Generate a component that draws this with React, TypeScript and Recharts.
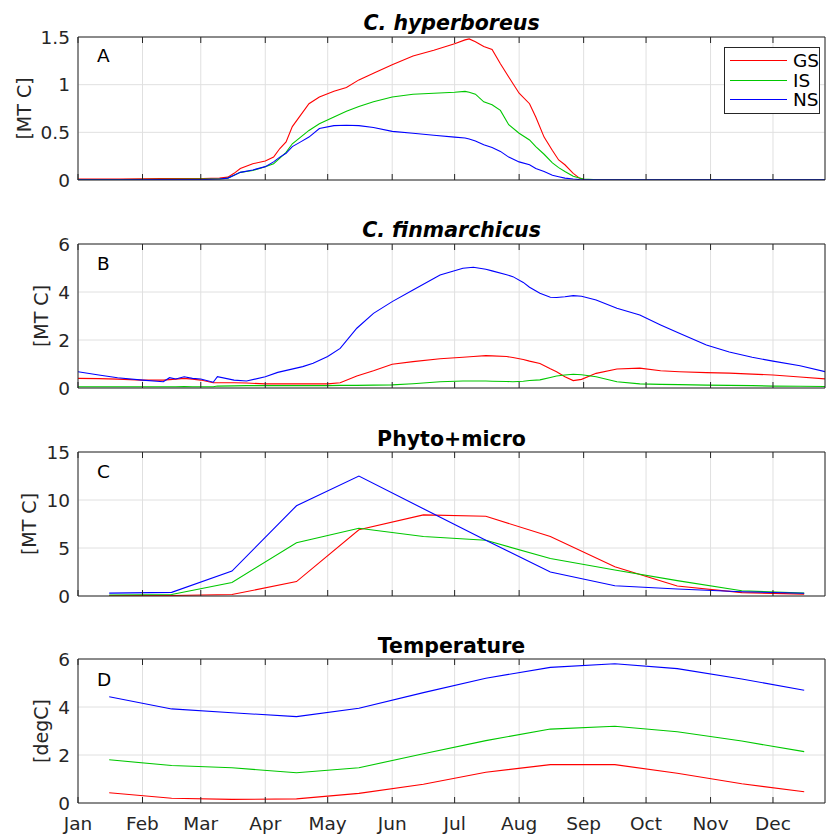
import { CartesianGrid, Legend, Line, LineChart, XAxis, YAxis } from "recharts"

const monthStarts = [0, 31, 59, 90, 120, 151, 181, 212, 243, 273, 304, 334]
const monthNames = ["Jan", "Feb", "Mar", "Apr", "May", "Jun", "Jul", "Aug", "Sep", "Oct", "Nov", "Dec"]
const midMonthDays = [15, 45, 74, 105, 135, 166, 196, 227, 258, 288, 319, 349]

// A: C. hyperboreus [MT C]
const hypDays = [0, 20, 40, 60, 68, 72, 75, 78, 84, 90, 94, 97, 100, 103, 107, 111, 116, 123, 129, 135, 142, 151, 161, 171, 181, 186, 188, 191, 195, 199, 203, 207, 212, 217, 220, 224, 228, 231, 234, 238, 241, 243, 250, 280, 310, 340, 359]
const hypGS = [0.01, 0.01, 0.015, 0.015, 0.02, 0.03, 0.07, 0.12, 0.17, 0.2, 0.24, 0.33, 0.4, 0.56, 0.68, 0.8, 0.87, 0.93, 0.97, 1.05, 1.12, 1.21, 1.3, 1.36, 1.43, 1.47, 1.48, 1.45, 1.4, 1.37, 1.22, 1.08, 0.91, 0.8, 0.66, 0.45, 0.31, 0.21, 0.16, 0.07, 0.02, 0.005, 0.003, 0.002, 0.002, 0.003, 0.005]
const hypIS = [0.005, 0.005, 0.008, 0.01, 0.01, 0.02, 0.05, 0.08, 0.1, 0.14, 0.17, 0.23, 0.29, 0.38, 0.45, 0.52, 0.59, 0.66, 0.72, 0.77, 0.82, 0.87, 0.9, 0.91, 0.92, 0.93, 0.92, 0.9, 0.82, 0.79, 0.73, 0.58, 0.49, 0.42, 0.35, 0.27, 0.18, 0.13, 0.09, 0.04, 0.02, 0.01, 0.003, 0.002, 0.002, 0.002, 0.002]
const hypNS = [0.003, 0.003, 0.005, 0.005, 0.01, 0.02, 0.05, 0.08, 0.105, 0.14, 0.19, 0.24, 0.28, 0.35, 0.4, 0.45, 0.54, 0.57, 0.575, 0.57, 0.55, 0.51, 0.49, 0.47, 0.45, 0.44, 0.43, 0.41, 0.37, 0.34, 0.3, 0.24, 0.19, 0.16, 0.12, 0.09, 0.05, 0.035, 0.02, 0.01, 0.005, 0.003, 0.002, 0.002, 0.002, 0.002, 0.002]

// B: C. finmarchicus [MT C]
const finDays = [0, 10, 19, 31, 41, 44, 47, 51, 55, 59, 65, 67, 75, 81, 90, 96, 108, 113, 120, 126, 134, 142, 151, 161, 174, 185, 190, 196, 199, 206, 209, 214, 217, 222, 227, 230, 234, 238, 242, 249, 259, 270, 280, 289, 302, 313, 324, 334, 347, 359]
const finGS = [0.4, 0.39, 0.37, 0.33, 0.33, 0.35, 0.37, 0.4, 0.37, 0.33, 0.22, 0.22, 0.22, 0.21, 0.17, 0.17, 0.17, 0.17, 0.17, 0.22, 0.5, 0.72, 0.99, 1.1, 1.22, 1.28, 1.31, 1.35, 1.34, 1.31, 1.27, 1.19, 1.12, 1.02, 0.8, 0.68, 0.47, 0.31, 0.36, 0.61, 0.79, 0.83, 0.72, 0.68, 0.64, 0.62, 0.58, 0.54, 0.46, 0.38]
const finIS = [0.05, 0.05, 0.05, 0.05, 0.05, 0.05, 0.05, 0.06, 0.05, 0.05, 0.05, 0.08, 0.09, 0.1, 0.1, 0.1, 0.1, 0.1, 0.1, 0.11, 0.11, 0.12, 0.13, 0.18, 0.26, 0.29, 0.29, 0.29, 0.28, 0.27, 0.26, 0.28, 0.31, 0.34, 0.44, 0.5, 0.54, 0.57, 0.55, 0.47, 0.26, 0.17, 0.15, 0.14, 0.12, 0.11, 0.1, 0.08, 0.07, 0.06]
const finNS = [0.68, 0.54, 0.43, 0.33, 0.26, 0.43, 0.375, 0.47, 0.4, 0.375, 0.24, 0.47, 0.33, 0.29, 0.47, 0.65, 0.89, 1.03, 1.31, 1.65, 2.49, 3.11, 3.6, 4.08, 4.71, 4.99, 5.03, 4.95, 4.88, 4.72, 4.64, 4.4, 4.2, 3.95, 3.78, 3.77, 3.8, 3.85, 3.82, 3.67, 3.32, 3.04, 2.63, 2.28, 1.79, 1.5, 1.28, 1.12, 0.93, 0.68]

// C: Phyto+micro [MT C], monthly means
const phyGS = [0.05, 0.05, 0.15, 1.5, 6.9, 8.45, 8.3, 6.2, 3.05, 1.04, 0.35, 0.2]
const phyIS = [0.1, 0.15, 1.4, 5.55, 7.05, 6.2, 5.8, 3.9, 2.7, 1.6, 0.55, 0.3]
const phyNS = [0.3, 0.38, 2.6, 9.4, 12.5, 9.1, 5.8, 2.5, 1.07, 0.73, 0.45, 0.28]

// D: Temperature [degC], monthly means
const tempGS = [0.43, 0.2, 0.15, 0.17, 0.4, 0.78, 1.28, 1.6, 1.6, 1.24, 0.8, 0.47]
const tempIS = [1.8, 1.56, 1.47, 1.26, 1.47, 2.05, 2.6, 3.08, 3.2, 2.97, 2.58, 2.14]
const tempNS = [4.43, 3.92, 3.76, 3.6, 3.95, 4.6, 5.2, 5.65, 5.8, 5.6, 5.17, 4.7]

const series = ["GS", "IS", "NS"]
const colors: Record<string, string> = { GS: "#ff0000", IS: "#00c800", NS: "#0000ff" }
const AXIS = "#262626"
const GRID = "#e0e0e0"
const TICK_FONT = 18.5

const toRows = (days: number[], gs: number[], is: number[], ns: number[]) =>
  days.map((day, i) => ({ day, GS: gs[i], IS: is[i], NS: ns[i] }))

// matlab style: tick marks point inwards
const bottomTick = (labels: boolean) => (props: any) => {
  const { x, y, payload } = props
  const idx = monthStarts.indexOf(payload.value)
  return (
    <g>
      <line x1={x} y1={y} x2={x} y2={y - 6} stroke={AXIS} />
      {labels && (
        <text x={x} y={y + 27} textAnchor="middle" fill={AXIS} fontSize={TICK_FONT}>
          {monthNames[idx]}
        </text>
      )}
    </g>
  )
}

const topTick = (props: any) => {
  const { x, y } = props
  return <line x1={x} y1={y} x2={x} y2={y + 6} stroke={AXIS} />
}

const legendContent = (props: any) => (
  <div style={{ border: `1px solid ${AXIS}`, background: "#fff", padding: "3px 0", fontSize: TICK_FONT, color: "#000" }}>
    {(props.payload || []).map((p: any) => (
      <div key={p.value} style={{ display: "flex", alignItems: "center", height: 19.5 }}>
        <span style={{ display: "inline-block", width: 57, marginLeft: 5, borderTop: `1px solid ${p.color}` }} />
        <span style={{ marginLeft: 6, lineHeight: "19px" }}>{p.value}</span>
      </div>
    ))}
  </div>
)

type PanelProps = {
  rows: any[]
  top: number
  height: number
  plotTop: number
  plotBottom: number
  yMax: number
  yTicks: number[]
  monthLabels?: boolean
  legend?: boolean
}

function Panel(p: PanelProps) {
  // both x axes are 1px tall, right y axis 1px wide
  const marginTop = p.plotTop - 1
  const marginBottom = p.height - p.plotBottom - 1
  return (
    <div style={{ position: "absolute", left: 0, top: p.top }}>
      <LineChart
        width={826}
        height={p.height}
        data={p.rows}
        margin={{ top: marginTop, right: 0, bottom: marginBottom, left: 18 }}
      >
        <CartesianGrid stroke={GRID} />
        <XAxis
          dataKey="day"
          type="number"
          domain={[0, 359]}
          ticks={monthStarts}
          interval={0}
          height={1}
          tickSize={0}
          tickMargin={0}
          tickLine={false}
          axisLine={{ stroke: AXIS }}
          tick={bottomTick(!!p.monthLabels)}
          allowDataOverflow
        />
        <XAxis
          xAxisId="top"
          orientation="top"
          dataKey="day"
          type="number"
          domain={[0, 359]}
          ticks={monthStarts}
          interval={0}
          height={1}
          tickSize={0}
          tickMargin={0}
          tickLine={false}
          axisLine={{ stroke: AXIS }}
          tick={topTick}
          allowDataOverflow
        />
        <YAxis
          domain={[0, p.yMax]}
          ticks={p.yTicks}
          interval={0}
          width={60}
          tickLine={false}
          axisLine={{ stroke: AXIS }}
          tick={{ fill: AXIS, fontSize: TICK_FONT }}
          allowDataOverflow
        />
        <YAxis yAxisId="right" orientation="right" width={1} tick={false} tickLine={false} axisLine={{ stroke: AXIS }} />
        {p.legend && (
          <Legend
            layout="vertical"
            align="center"
            verticalAlign="middle"
            wrapperStyle={{ top: 47, left: 724, width: 96 }}
            content={legendContent}
          />
        )}
        {series.map((s) => (
          <Line
            key={s}
            type="linear"
            dataKey={s}
            name={s}
            stroke={colors[s]}
            strokeWidth={1.1}
            dot={false}
            activeDot={false}
            isAnimationActive={false}
          />
        ))}
      </LineChart>
    </div>
  )
}

const titles = [
  { text: "C. hyperboreus", y: 30, italic: true },
  { text: "C. finmarchicus", y: 237, italic: true },
  { text: "Phyto+micro", y: 446, italic: false },
  { text: "Temperature", y: 653, italic: false },
]
const letters = [
  { text: "A", y: 62 },
  { text: "B", y: 270 },
  { text: "C", y: 478 },
  { text: "D", y: 686 },
]
const yLabels = [
  { text: "[MT C]", x: 31, y: 108.5 },
  { text: "[MT C]", x: 47.5, y: 316 },
  { text: "[MT C]", x: 36, y: 524 },
  { text: "[degC]", x: 47.5, y: 731 },
]

export default function App() {
  return (
    <div
      style={{
        position: "absolute",
        left: 0,
        top: 0,
        width: 826,
        height: 835,
        background: "#fff",
        fontFamily: "'DejaVu Sans', sans-serif",
      }}
    >
      <Panel rows={toRows(hypDays, hypGS, hypIS, hypNS)} top={0} height={200} plotTop={37} plotBottom={180} yMax={1.5} yTicks={[0, 0.5, 1, 1.5]} legend />
      <Panel rows={toRows(finDays, finGS, finIS, finNS)} top={200} height={200} plotTop={44} plotBottom={188} yMax={6} yTicks={[0, 2, 4, 6]} />
      <Panel rows={toRows(midMonthDays, phyGS, phyIS, phyNS)} top={400} height={210} plotTop={52} plotBottom={196} yMax={15} yTicks={[0, 5, 10, 15]} />
      <Panel rows={toRows(midMonthDays, tempGS, tempIS, tempNS)} top={610} height={225} plotTop={49} plotBottom={193} yMax={6} yTicks={[0, 2, 4, 6]} monthLabels />
      <svg width={826} height={835} style={{ position: "absolute", left: 0, top: 0, pointerEvents: "none" }}>
        {titles.map((t) => (
          <text key={t.text} x={451.5} y={t.y} textAnchor="middle" fontSize={20.5} fontWeight="bold" fontStyle={t.italic ? "italic" : "normal"} fill="#000">
            {t.text}
          </text>
        ))}
        {letters.map((l) => (
          <text key={l.text} x={97} y={l.y} fontSize={TICK_FONT} fill="#000">
            {l.text}
          </text>
        ))}
        {yLabels.map((l, i) => (
          <text key={i} x={l.x} y={l.y} textAnchor="middle" fontSize={19} fill={AXIS} transform={`rotate(-90 ${l.x} ${l.y})`}>
            {l.text}
          </text>
        ))}
      </svg>
    </div>
  )
}
